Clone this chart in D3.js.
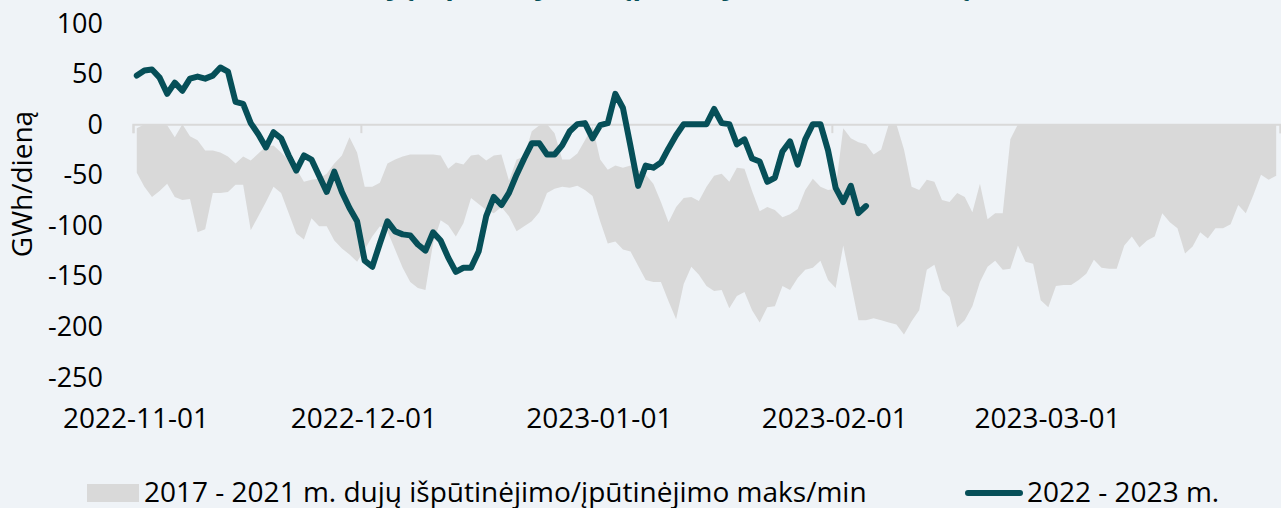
<!DOCTYPE html>
<html>
<head>
<meta charset="utf-8">
<script src="https://cdn.jsdelivr.net/npm/d3@7"></script>
<style>
  html, body { margin: 0; padding: 0; background: #eff3f7; }
  svg { display: block; font-family: "Open Sans", sans-serif; }
</style>
</head>
<body>
<svg id="chart" width="1281" height="508"></svg>
<script>
// first day of the series, one value per day from here
var startDay = "2022-11-01";
var endDay = "2023-04-01";

// 2017-2021 max / min band (GWh/day)
var bandMax = [
  -4, 0, 0, 0, -1, -13, 0, -12, -16, -26,
  -26, -28, -32, -39, -32, -36, -29, -22, -21, -28,
  -36, -44, -57, -55, -54, -49, -39, -31, -13, -28,
  -62, -62, -58, -39, -35, -32, -30, -30, -30, -30,
  -31, -44, -38, -40, -31, -30, -36, -31, -30, -56,
  -35, -32, -7, -1, 0, -9, -35, -35, -29, -16,
  -2, -35, -45, -41, -43, -41, -45, -50, -59, -77,
  -97, -82, -73, -72, -76, -62, -51, -49, -57, -43,
  -44, -66, -86, -82, -85, -92, -89, -84, -65, -54,
  -62, -65, -64, -4, -14, -18, -20, -30, -25, 0,
  0, -25, -62, -65, -55, -57, -75, -77, -68, -72,
  -87, -59, -94, -88, -88, -15, 0, 0, 0, 0,
  0, 0, 0, 0, 0, 0, 0, 0, 0, 0,
  0, 0, 0, 0, 0, 0, 0, 0, 0, 0,
  0, 0, 0, 0, 0, 0, 0, 0, 0, 0,
  0
];
var bandMin = [
  -48, -62, -72, -66, -59, -72, -75, -74, -107, -104,
  -68, -68, -67, -60, -60, -105, -91, -77, -62, -68,
  -88, -108, -114, -93, -101, -101, -115, -123, -129, -136,
  -124, -111, -101, -106, -124, -142, -156, -162, -164, -118,
  -95, -100, -111, -98, -73, -79, -85, -88, -82, -91,
  -106, -101, -96, -87, -68, -64, -62, -63, -61, -65,
  -71, -96, -118, -116, -124, -126, -140, -154, -156, -156,
  -175, -193, -158, -141, -149, -160, -165, -164, -182, -170,
  -166, -184, -196, -181, -180, -160, -164, -152, -144, -142,
  -135, -154, -162, -120, -157, -194, -194, -192, -194, -196,
  -198, -208, -195, -184, -144, -139, -164, -171, -201, -194,
  -180, -156, -141, -135, -144, -143, -120, -136, -138, -174,
  -181, -160, -159, -159, -154, -148, -134, -142, -143, -143,
  -120, -111, -122, -115, -111, -88, -97, -103, -128, -121,
  -107, -113, -103, -103, -99, -80, -88, -70, -50, -55,
  -51
];
// 2022-2023 season (GWh/day)
var season2223 = [
  48, 53, 54, 46, 30, 41, 33, 45, 47, 45,
  48, 56, 52, 22, 20, 1, -10, -23, -8, -14,
  -31, -46, -31, -35, -51, -67, -47, -67, -83, -96,
  -135, -141, -118, -96, -106, -109, -110, -119, -125, -107,
  -115, -132, -146, -142, -142, -126, -91, -72, -80, -68,
  -50, -34, -19, -19, -30, -30, -21, -7, 0, 1,
  -14, -1, 1, 30, 16, -22, -61, -41, -43, -38,
  -24, -11, 0, 0, 0, 0, 15, 1, 0, -20,
  -15, -34, -37, -57, -53, -27, -17, -40, -15, 0,
  0, -26, -63, -77, -61, -88, -81
];

var yTicks = [100, 50, 0, -50, -100, -150, -200, -250];
var xTickLabels = ["2022-11-01", "2022-12-01", "2023-01-01", "2023-02-01", "2023-03-01"];

var titleText = "Dujų išpūtinėjimas/įpūtinėjimas, GWh/dieną";
var yTitle = "GWh/dieną";
var bandName = "2017 - 2021 m. dujų išpūtinėjimo/įpūtinėjimo maks/min";
var lineName = "2022 - 2023 m.";

var svg = d3.select("#chart");
var parse = d3.timeParse("%Y-%m-%d");
var days = d3.timeDay.range(parse(startDay), parse(endDay));

var x = d3.scaleTime()
  .domain([parse(startDay), parse(endDay)])
  .range([133, 1280]);

var y = d3.scaleLinear()
  .domain([-250, 100])
  .range([377, 23]);

// points sit in the middle of their day
var px = function(i) { return x(d3.timeHour.offset(days[i], 12)); };

var bandData = days.map(function(d, i) { return {i: i, hi: bandMax[i], lo: bandMin[i]}; });

// grey min/max band
svg.append("path")
  .datum(bandData)
  .attr("fill", "#d9d9d9")
  .attr("d", d3.area()
    .x(function(d) { return px(d.i); })
    .y0(function(d) { return y(d.lo); })
    .y1(function(d) { return y(d.hi); }));

// horizontal axis on the zero line
var xAxis = svg.append("g")
  .attr("transform", "translate(0," + y(0) + ")")
  .call(d3.axisBottom(x)
    .ticks(d3.timeMonth.every(1))
    .tickSize(9)
    .tickFormat(""));
xAxis.select(".domain").attr("stroke", "#d9d9d9").attr("stroke-width", 2);
xAxis.selectAll(".tick line").attr("stroke", "#d9d9d9").attr("stroke-width", 2);

// month labels at the bottom
svg.append("g")
  .selectAll("text")
  .data(xTickLabels)
  .enter().append("text")
    .attr("x", function(d) { return x(parse(d)) + 3; })
    .attr("y", 428)
    .attr("text-anchor", "middle")
    .attr("font-size", 28)
    .attr("fill", "#000")
    .text(function(d) { return d; });

// y labels
svg.append("g")
  .selectAll("text")
  .data(yTicks)
  .enter().append("text")
    .attr("x", 103)
    .attr("y", function(d) { return y(d) + 9.5; })
    .attr("text-anchor", "end")
    .attr("font-size", 27)
    .attr("fill", "#000")
    .text(function(d) { return d; });

svg.append("text")
  .attr("transform", "translate(32,184) rotate(-90)")
  .attr("text-anchor", "middle")
  .attr("font-size", 28)
  .attr("fill", "#000")
  .text(yTitle);

// 2022-2023 line
svg.append("path")
  .datum(season2223)
  .attr("fill", "none")
  .attr("stroke", "#064f58")
  .attr("stroke-width", 6)
  .attr("stroke-linejoin", "round")
  .attr("stroke-linecap", "round")
  .attr("d", d3.line()
    .x(function(d, i) { return px(i); })
    .y(function(d) { return y(d); }));

// title, mostly above the picture
svg.append("text")
  .attr("x", 660)
  .attr("y", -6)
  .attr("text-anchor", "middle")
  .attr("font-size", 28)
  .attr("font-weight", "bold")
  .attr("fill", "#064f58")
  .text(titleText);

// legend
var legend = svg.append("g").attr("font-size", 28).attr("fill", "#000");
legend.append("rect")
  .attr("x", 87).attr("y", 484)
  .attr("width", 52).attr("height", 18)
  .attr("fill", "#d9d9d9");
legend.append("text")
  .attr("x", 144).attr("y", 502)
  .text(bandName);
legend.append("line")
  .attr("x1", 968).attr("x2", 1020)
  .attr("y1", 493).attr("y2", 493)
  .attr("stroke", "#064f58")
  .attr("stroke-width", 6)
  .attr("stroke-linecap", "round");
legend.append("text")
  .attr("x", 1027).attr("y", 502)
  .text(lineName);
</script>
</body>
</html>
